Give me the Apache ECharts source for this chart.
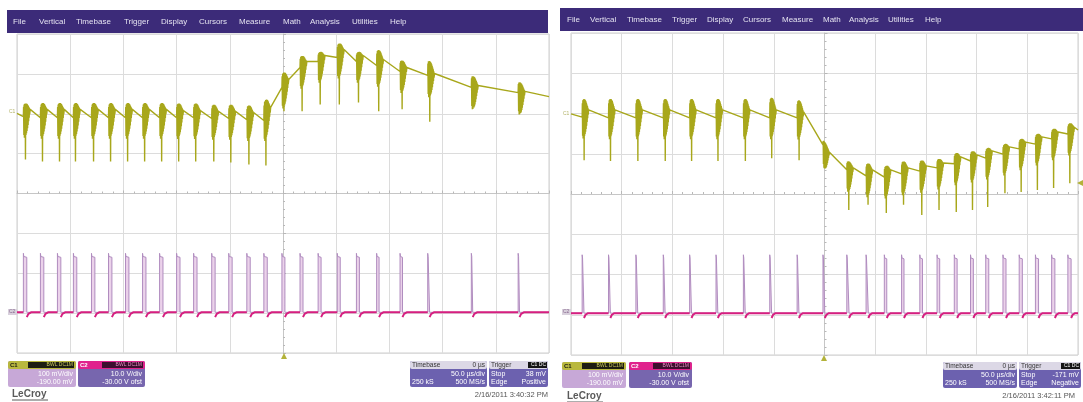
<!DOCTYPE html>
<html><head><meta charset="utf-8">
<script src="https://cdn.jsdelivr.net/npm/echarts@6/dist/echarts.min.js"></script>
<style>html,body{margin:0;padding:0;background:#fff}#c{width:1083px;height:402px}</style>
</head><body><div id="c"></div>
<script>
// ================= DATA (x in µs, y in screen divisions) =================
// ---- left capture ----
const leftEventTimes = [-244,-228,-212,-197,-180,-164,-148,-132,-116,-100,-84,-67,-51,-34,-18,-1,16,33,51,69,88,110,136,177,221];
const leftPulseWidths = [3.2,3.2,3.2,3.2,3.2,3.2,3.2,3.2,3.2,3.2,3.2,3.2,3.2,3.2,3.2,2.8,2.8,2.8,2.8,2.8,2.3,2.3,1.8,1.3,1.3];
const leftC1Pre   = [1.93,1.90,1.90,1.90,1.90,1.90,1.90,1.90,1.90,1.90,1.90,1.88,1.88,1.85,1.83,2.66,3.16,3.31,3.41,3.31,3.21,3.06,2.96,2.66,2.53];
const leftC1Post  = [2.11,2.11,2.11,2.11,2.11,2.11,2.11,2.11,2.11,2.08,2.08,2.06,2.06,2.03,2.16,2.86,3.31,3.46,3.61,3.46,3.36,3.16,3.01,2.71,2.56];
const leftC1Top   = [2.21,2.21,2.21,2.21,2.21,2.21,2.21,2.21,2.21,2.21,2.21,2.18,2.18,2.16,2.26,2.98,3.41,3.51,3.71,3.51,3.56,3.31,3.31,2.93,2.78];
const leftC1Spike = [0.85,0.80,0.80,0.80,0.80,0.80,0.80,0.80,0.80,0.80,0.80,0.80,0.78,0.73,0.70,2.06,2.06,2.23,2.23,2.28,2.06,2.11,1.80,2.36,2.11];
const leftC1Start = 2.01, leftC1End = 2.43;
const leftC2Base = -2.98, leftC2High = -1.58;

// ---- right capture ----
const rightEventTimes = [-239,-213,-186,-159,-133,-107,-80,-54,-27,-1.5,22,41,59,76,94,111,128,144,159,176,192,208,224,240];
const rightPulseWidths = [1.8,1.8,1.8,1.8,1.8,1.8,1.8,1.8,1.8,1.8,2.2,2.2,2.4,2.4,2.6,2.6,2.8,2.8,3.0,3.0,3.1,3.1,3.2,3.2];
const rightC1Pre   = [1.91,1.89,1.89,1.89,1.89,1.89,1.89,1.89,1.89,1.22,0.60,0.45,0.42,0.50,0.57,0.65,0.75,0.82,0.89,0.99,1.12,1.24,1.37,1.49];
const rightC1Post  = [2.09,2.09,2.09,2.09,2.09,2.09,2.09,2.09,2.04,1.04,0.65,0.60,0.60,0.65,0.70,0.77,0.92,0.97,1.07,1.17,1.29,1.42,1.54,1.66];
const rightC1Top   = [2.31,2.31,2.31,2.31,2.31,2.31,2.31,2.34,2.29,1.34,0.80,0.72,0.65,0.77,0.80,0.84,0.97,1.02,1.09,1.19,1.32,1.44,1.57,1.71];
const rightC1Spike = [0.84,0.82,0.82,0.82,0.82,0.82,0.82,0.89,0.84,0.67,-0.40,-0.27,-0.47,-0.27,-0.52,-0.40,-0.45,-0.40,-0.32,0.02,0.05,0.10,0.15,0.27];
const rightC1Start = 1.99, rightC1End = 1.59;
const rightC2Base = -2.96, rightC2High = -1.59;

const ringEnv = [0.85,1,1,1,0.95,0.9,0.82,0.72,0.6,0.46,0.32,0.18];
const burstDepth = 0.55;

// ---- texts ----
const menuItems = ['File','Vertical','Timebase','Trigger','Display','Cursors','Measure','Math','Analysis','Utilities','Help'];
const leftInfo  = {c1:['100 mV/div','-190.00 mV'], c2:['10.0 V/div','-30.00 V ofst'], tb:['0 µs','50.0 µs/div','250 kS','500 MS/s'], trig:['C1 DC','Stop','38 mV','Edge','Positive'], date:'2/16/2011 3:40:32 PM'};
const rightInfo = {c1:['100 mV/div','-190.00 mV'], c2:['10.0 V/div','-30.00 V ofst'], tb:['0 µs','50.0 µs/div','250 kS','500 MS/s'], trig:['C1 DC','Stop','-171 mV','Edge','Negative'], date:'2/16/2011 3:42:11 PM'};

// ================= build series data =================
function buildC1(times, pre, post, top, spike, start, end){
  const burstLen = 6.4;
  const d = [[-250, start]];
  for (let i = 0; i < times.length; i++) {
    const t = times[i], p = pre[i], q = post[i], up = top[i] - pre[i];
    d.push([t, p]);
    for (let k = 0; k < ringEnv.length; k++) {
      const tt = t + 0.2 + k * 0.5;
      const L = p + (q - p) * Math.min(1, (tt - t) / burstLen);
      d.push([tt, L + up * ringEnv[k]]);
      if (k === 3) d.push([tt + 0.25, spike[i]]);
      else d.push([tt + 0.25, L - burstDepth * ringEnv[k]]);
    }
    d.push([t + burstLen, q]);
  }
  d.push([250, end]);
  return d;
}
function buildPulses(times, widths, base, high){
  const d = [[-250, base]];
  times.forEach((t, i) => {
    const w = widths[i];
    d.push([t, base], [t, high + 0.08], [t + 0.4, high], [t + w, high - 0.02], [t + w, base]);
  });
  d.push([250, base]);
  return d;
}
function buildBase(times, widths, base){
  const d = [[-250, base]];
  times.forEach((t, i) => {
    const w = widths[i];
    d.push([t, base], [t + w / 2, '-'], [t + w, base - 0.12], [t + w + 1.5, base - 0.04], [t + w + 4, base]);
  });
  d.push([250, base]);
  return d;
}

// ================= chart =================
const C1COL = '#a8a71b', C2COL = '#d61f80';
const grids = [
  {left:17, top:34, width:532, height:319},
  {left:571, top:33, width:507, height:322}
];
function xAx(gi){
  return {type:'value', gridIndex:gi, min:-250, max:250, interval:50,
    axisLine:{show:true, onZero:true, lineStyle:{color:'#c6c6c6', width:1}},
    axisTick:{show:true, inside:true, length:3, lineStyle:{color:'#b8b8b8'}},
    minorTick:{show:true, splitNumber:5, length:2, lineStyle:{color:'#b8b8b8'}},
    axisLabel:{show:false},
    splitLine:{show:true, lineStyle:{color:'#dcdcdc', width:1}}};
}
function yAx(gi){
  return {type:'value', gridIndex:gi, min:-4, max:4, interval:1,
    axisLine:{show:true, onZero:true, lineStyle:{color:'#c6c6c6', width:1}},
    axisTick:{show:true, inside:true, length:3, lineStyle:{color:'#b8b8b8'}},
    minorTick:{show:true, splitNumber:5, length:2, lineStyle:{color:'#b8b8b8'}},
    axisLabel:{show:false},
    splitLine:{show:true, lineStyle:{color:'#dcdcdc', width:1}}};
}
function lineS(gi, data, color, width, extra){
  return Object.assign({type:'line', xAxisIndex:gi, yAxisIndex:gi, data, showSymbol:false, symbol:'none',
    animation:false, silent:true, clip:true, lineStyle:{color, width}, itemStyle:{color}}, extra || {});
}

const series = [];
[[0, leftEventTimes, leftPulseWidths, leftC2Base, leftC2High, leftC1Pre, leftC1Post, leftC1Top, leftC1Spike, leftC1Start, leftC1End],
 [1, rightEventTimes, rightPulseWidths, rightC2Base, rightC2High, rightC1Pre, rightC1Post, rightC1Top, rightC1Spike, rightC1Start, rightC1End]]
.forEach(a => {
  const [gi, times, widths, base, high, pre, post, top, spike, st, en] = a;
  series.push(lineS(gi, buildPulses(times, widths, base, high), '#b08cbf', 1,
    {areaStyle:{origin: base, color:'#ebd2ea', opacity:1}, z:2}));
  series.push(lineS(gi, buildBase(times, widths, base), C2COL, 2, {z:3, connectNulls:false}));
  series.push(lineS(gi, buildC1(times, pre, post, top, spike, st, en), C1COL, 1.4, {z:4}));
});

// ================= graphic (instrument chrome) =================
const G = [];
const FONT = '"Liberation Sans", Arial, sans-serif';
function rect(x, y, w, h, fill, r){ G.push({type:'rect', silent:true, z:10, shape:{x, y, width:w, height:h, r:r || 0}, style:{fill}}); }
function txt(x, y, s, size, fill, align, weight){
  G.push({type:'text', silent:true, z:11, x, y, style:{text:s, fill, font:(weight || 'normal') + ' ' + size + 'px ' + FONT,
    align:align || 'left', verticalAlign:'middle', textAlign:align || 'left', textVerticalAlign:'middle'}});
}
function tri(cx, cy, dir, col){
  const pts = dir === 'up' ? [[cx - 3, cy + 3], [cx + 3, cy + 3], [cx, cy - 3]] : [[cx + 3, cy - 3], [cx + 3, cy + 3], [cx - 3, cy]];
  G.push({type:'polygon', silent:true, z:11, shape:{points:pts}, style:{fill:col}});
}
function panel(P){
  rect(P.barX, P.barY, P.barW, 23, '#3c2b79');
  P.menuX.forEach((x, i) => txt(x, P.barY + 12, menuItems[i], 8, '#e4e2f0'));
  // channel labels
  txt(P.c1LabX, P.c1LabY, 'C1', 5, '#b4b46a');
  rect(P.c1LabX - 1, P.c2LabY - 3, 9, 6, '#d8d0dc');
  txt(P.c1LabX, P.c2LabY, 'C2', 5, '#8a6a90');
  // C1 box
  const by = P.boxY;
  rect(P.c1X, by, P.c1W, 26, '#c7a8d7', 2);
  rect(P.c1X, by, P.c1W, 8, '#b9b83e', 2);
  rect(P.c1X + 20, by + 1, P.c1W - 22, 6, '#1d1d12');
  txt(P.c1X + 2, by + 4, 'C1', 6, '#1d1d12', 'left', 'bold');
  txt(P.c1X + P.c1W - 3, by + 4, 'BWL DC1M', 5, '#c9c85a', 'right');
  txt(P.c1X + P.c1W - 3, by + 13, P.info.c1[0], 7, '#ffffff', 'right');
  txt(P.c1X + P.c1W - 3, by + 21, P.info.c1[1], 7, '#ffffff', 'right');
  // C2 box
  rect(P.c2X, by, P.c2W, 26, '#7766ae', 2);
  rect(P.c2X, by, P.c2W, 8, '#e0238d', 2);
  rect(P.c2X + 24, by + 1, P.c2W - 26, 6, '#3d0f2e');
  txt(P.c2X + 2, by + 4, 'C2', 6, '#ffffff', 'left', 'bold');
  txt(P.c2X + P.c2W - 3, by + 4, 'BWL DC1M', 5, '#e58ac0', 'right');
  txt(P.c2X + P.c2W - 3, by + 13, P.info.c2[0], 7, '#ffffff', 'right');
  txt(P.c2X + P.c2W - 3, by + 21, P.info.c2[1], 7, '#ffffff', 'right');
  // LeCroy logo
  txt(P.logoX, P.logoY, 'LeCroy', 10, '#5a5a5a', 'left', 'bold');
  G.push({type:'line', silent:true, z:11, shape:{x1:P.logoX, y1:P.logoY + 6, x2:P.logoX + 36, y2:P.logoY + 6}, style:{stroke:'#5a5a5a', lineWidth:1}});
  // Timebase box
  rect(P.tbX, by, P.tbW, 26, '#6c61af', 2);
  rect(P.tbX, by, P.tbW, 8, '#dcd8e6', 2);
  txt(P.tbX + 2, by + 4, 'Timebase', 6.5, '#333', 'left');
  txt(P.tbX + P.tbW - 2, by + 4, P.info.tb[0], 6.5, '#333', 'right');
  txt(P.tbX + P.tbW - 2, by + 13, P.info.tb[1], 7, '#ffffff', 'right');
  txt(P.tbX + 2, by + 21, P.info.tb[2], 7, '#ffffff', 'left');
  txt(P.tbX + P.tbW - 2, by + 21, P.info.tb[3], 7, '#ffffff', 'right');
  // Trigger box
  rect(P.trX, by, P.trW, 26, '#6c61af', 2);
  rect(P.trX, by, P.trW, 8, '#dcd8e6', 2);
  rect(P.trX + P.trW - 20, by + 1, 19, 6, '#151515');
  txt(P.trX + 2, by + 4, 'Trigger', 6.5, '#333', 'left');
  txt(P.trX + P.trW - 2, by + 4, P.info.trig[0], 5, '#ffffff', 'right');
  txt(P.trX + 2, by + 13, P.info.trig[1], 7, '#ffffff', 'left');
  txt(P.trX + P.trW - 2, by + 13, P.info.trig[2], 7, '#ffffff', 'right');
  txt(P.trX + 2, by + 21, P.info.trig[3], 7, '#ffffff', 'left');
  txt(P.trX + P.trW - 2, by + 21, P.info.trig[4], 7, '#ffffff', 'right');
  // date
  txt(P.dateX, P.dateY, P.info.date, 7.5, '#555', 'right');
  // trigger position marker
  tri(P.trigX, P.trigY, 'up', '#b3b23a');
}
panel({info:leftInfo, barX:7, barY:10, barW:541,
  menuX:[13,39,76,124,161,199,239,283,310,352,390],
  c1LabX:9, c1LabY:112, c2LabY:312,
  boxY:361, c1X:8, c1W:68, c2X:78, c2W:67, tbX:410, tbW:77, trX:489, trW:59,
  logoX:12, logoY:394, dateX:548, dateY:395, trigX:284, trigY:356});
panel({info:rightInfo, barX:560, barY:8, barW:523,
  menuX:[567,590,627,672,707,743,782,823,849,888,925],
  c1LabX:563, c1LabY:114, c2LabY:312,
  boxY:362, c1X:562, c1W:64, c2X:629, c2W:63, tbX:943, tbW:74, trX:1019, trW:62,
  logoX:567, logoY:396, dateX:1075, dateY:396, trigX:824, trigY:358});
tri(1080, 183, 'left', '#b3b23a');

const chart = echarts.init(document.getElementById('c'), null, {renderer:'canvas'});
chart.setOption({
  backgroundColor:'#ffffff',
  animation:false,
  grid: grids.map(g => Object.assign({show:true, borderColor:'#cfcfcf', borderWidth:1, backgroundColor:'transparent'}, g)),
  xAxis:[xAx(0), xAx(1)],
  yAxis:[yAx(0), yAx(1)],
  series,
  graphic:{elements:G}
});
</script></body></html>
